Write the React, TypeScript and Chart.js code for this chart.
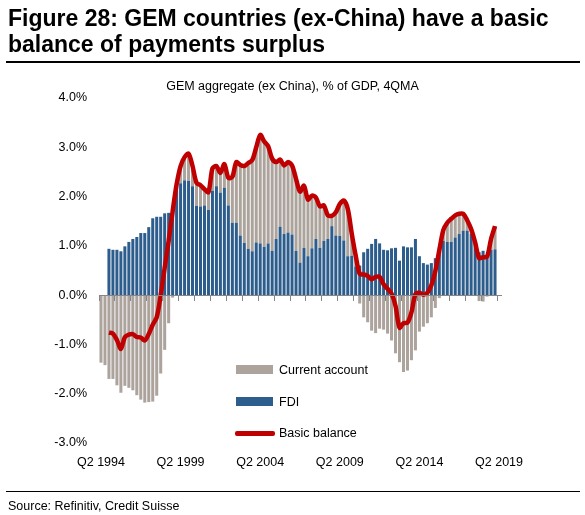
import React, { useEffect, useRef } from "react";
import { Chart, registerables } from "chart.js";

Chart.register(...registerables);

// ---- categories (quarters Q2 1994 .. Q2 2019) ----
const START_YEAR = 1994;
const START_QUARTER = 2;
const QUARTER_COUNT = 101;
const categories: string[] = [];
for (let i = 0; i < QUARTER_COUNT; i++) {
  const q = ((START_QUARTER - 1 + i) % 4) + 1;
  const y = START_YEAR + Math.floor((START_QUARTER - 1 + i) / 4);
  categories.push(`Q${q} ${y}`);
}

const tickLabels = ["Q2 1994", "Q2 1999", "Q2 2004", "Q2 2009", "Q2 2014", "Q2 2019"];
const yTicks = [4, 3, 2, 1, 0, -1, -2, -3];

// ---- series (% of GDP, 4QMA) ----
const fdi: (number | null)[] = [
  null, null, 0.94, 0.92, 0.92, 0.89, 0.99, 1.08, 1.14, 1.18,
  1.26, 1.26, 1.38, 1.56, 1.59, 1.59, 1.66, 1.67, 1.75, 2.2,
  2.27, 2.33, 2.32, 2.21, 1.81, 1.8, 1.82, 1.73, 2.12, 2.21,
  2.08, 2.18, 1.82, 1.47, 1.47, 1.21, 1.06, 0.94, 0.89, 1.07,
  1.05, 0.98, 1.05, 0.9, 1.14, 1.39, 1.24, 1.27, 1.23, 0.9,
  0.66, 0.96, 0.79, 0.95, 1.14, 0.96, 1.1, 1.14, 1.4, 1.21,
  1.2, 1.11, 0.79, 0.8, 0.58, 0.6, 0.87, 0.94, 1.04, 1.14,
  1.05, 0.92, 0.91, 0.95, 0.96, 0.7, 0.99, 0.97, 0.97, 1.14,
  0.79, 0.65, 0.62, 0.65, 0.75, 0.97, 1.1, 1.08, 1.08, 1.17,
  1.24, 1.31, 1.31, 1.24, 1.05, 0.87, 0.9, 0.81, 0.92, 0.93,
  null,
];

const currentAccount: (number | null)[] = [
  -1.37, -1.42, -1.7, -1.7, -1.83, -1.98, -1.84, -1.88, -1.93, -2.03,
  -2.12, -2.18, -2.17, -2.16, -2.04, -1.59, -1.11, -0.57, -0.05, 0.05,
  0.35, 0.47, 0.55, 0.41, 0.47, 0.43, 0.33, 0.36, 0.45, 0.41,
  0.4, 0.48, 0.56, 0.93, 1.23, 1.43, 1.56, 1.74, 1.85, 1.93,
  2.2, 2.14, 1.97, 1.87, 1.56, 1.36, 1.39, 1.43, 1.4, 1.46,
  1.44, 1.26, 1.15, 1.07, 0.84, 0.84, 0.72, 0.48, 0.21, 0.47,
  0.65, 0.81, 0.96, 0.45, 0.22, -0.17, -0.45, -0.55, -0.72, -0.77,
  -0.68, -0.7, -0.78, -0.92, -1.18, -1.36, -1.56, -1.53, -1.32, -1.12,
  -0.74, -0.64, -0.57, -0.45, -0.26, -0.06, 0.22, 0.39, 0.47, 0.45,
  0.41, 0.34, 0.21, 0.1, 0.02, -0.12, -0.13, -0.03, 0.22, 0.47,
  null,
];

const basicBalance: (number | null)[] = [
  null, null, -0.76, -0.78, -0.91, -1.09, -0.85, -0.8, -0.79, -0.85,
  -0.86, -0.92, -0.79, -0.6, -0.45, 0.0, 0.55, 1.1, 1.7, 2.25,
  2.62, 2.8, 2.87, 2.62, 2.28, 2.23, 2.15, 2.09, 2.57, 2.62,
  2.48, 2.66, 2.38, 2.4, 2.7, 2.64, 2.62, 2.68, 2.74, 3.0,
  3.25, 3.12, 3.02, 2.77, 2.7, 2.75, 2.63, 2.7, 2.63, 2.36,
  2.1, 2.22, 1.94, 2.02, 1.98, 1.8, 1.82, 1.62, 1.61, 1.68,
  1.85, 1.92, 1.75, 1.25, 0.8, 0.43, 0.42, 0.39, 0.32, 0.37,
  0.37, 0.22, 0.13, 0.03, -0.22, -0.66, -0.57, -0.56, -0.35, 0.02,
  0.05, 0.01, 0.05, 0.2, 0.49, 0.91, 1.32, 1.47, 1.55, 1.62,
  1.65, 1.65, 1.52, 1.34, 1.07, 0.75, 0.77, 0.78, 1.14, 1.4,
  null,
];

const BLUE = "#2D5D8C";
const GRAY = "#ABA39C";
const RED = "#C00000";
const AXIS = "#868686";
const FONT = "'Liberation Sans', Arial, sans-serif";

export default function App() {
  const canvasRef = useRef<HTMLCanvasElement>(null);

  useEffect(() => {
    if (!canvasRef.current) return;
    Chart.defaults.font.family = FONT;
    const chart = new Chart(canvasRef.current, {
      type: "bar",
      data: {
        labels: categories,
        datasets: [
          {
            type: "line",
            label: "Basic balance",
            data: basicBalance,
            borderColor: RED,
            backgroundColor: RED,
            borderWidth: 4.5,
            pointRadius: 0,
            tension: 0.3,
            order: 0,
            spanGaps: false,
          } as any,
          {
            type: "bar",
            label: "FDI",
            data: fdi,
            backgroundColor: BLUE,
            barPercentage: 0.76,
            categoryPercentage: 1,
            order: 1,
          },
          {
            type: "bar",
            label: "Current account",
            data: currentAccount,
            backgroundColor: GRAY,
            barPercentage: 0.76,
            categoryPercentage: 1,
            order: 1,
          },
        ],
      },
      options: {
        responsive: false,
        animation: false,
        devicePixelRatio: 1,
        layout: { padding: { left: 0, top: 98, right: 84, bottom: 0 } },
        plugins: {
          legend: { display: false },
          tooltip: { enabled: false },
          title: { display: false },
        },
        scales: {
          x: {
            stacked: true,
            grid: { display: false, drawTicks: false },
            border: { display: false },
            ticks: {
              autoSkip: false,
              maxRotation: 0,
              minRotation: 0,
              padding: 12,
              color: "#000",
              font: { size: 12.5, family: FONT },
              callback: (_v: any, i: number) =>
                tickLabels.includes(categories[i]) ? categories[i] : "",
            },
            afterFit: (s: any) => {
              s.height = 72;
            },
          },
          x2: {
            type: "category",
            labels: categories,
            position: { y: 0 },
            offset: true,
            grid: {
              offset: true,
              drawOnChartArea: false,
              drawTicks: true,
              tickLength: 5,
              lineWidth: 1,
              color: (ctx: any) =>
                typeof ctx.index === "number" && ctx.index % 4 === 0 ? AXIS : "rgba(0,0,0,0)",
              z: 1,
            },
            border: { display: true, color: AXIS, width: 1, z: 1 },
            ticks: { display: false, autoSkip: false },
          } as any,
          y: {
            stacked: true,
            min: -3,
            max: 4,
            afterBuildTicks: (s: any) => {
              s.ticks = yTicks.map((v) => ({ value: v }));
            },
            ticks: {
              padding: 12,
              color: "#000",
              font: { size: 12.5, family: FONT },
              callback: (v: any) => Number(v).toFixed(1) + "%",
            },
            grid: { display: false, drawTicks: false },
            border: { display: false },
            afterFit: (s: any) => {
              s.width = 99;
            },
          },
        },
      },
    });
    return () => chart.destroy();
  }, []);

  const text: React.CSSProperties = {
    position: "absolute",
    fontFamily: FONT,
    color: "#000",
    whiteSpace: "nowrap",
  };

  return (
    <div
      style={{
        position: "absolute",
        left: 0,
        top: 0,
        width: 585,
        height: 515,
        background: "#fff",
        overflow: "hidden",
        fontFamily: FONT,
      }}
    >
      <canvas
        ref={canvasRef}
        width={585}
        height={515}
        style={{ position: "absolute", left: 0, top: 0, width: 585, height: 515 }}
      />
      <div style={{ ...text, left: 8, top: 5, fontSize: 23, fontWeight: "bold", lineHeight: "26px" }}>
        Figure 28: GEM countries (ex-China) have a basic
        <br />
        balance of payments surplus
      </div>
      <div style={{ position: "absolute", left: 6, top: 61, width: 574, height: 1.5, background: "#000" }} />
      <div style={{ ...text, left: 0, width: 585, textAlign: "center", top: 78, fontSize: 12.5, lineHeight: "16px" }}>
        GEM aggregate (ex China), % of GDP, 4QMA
      </div>

      {/* legend */}
      <div style={{ position: "absolute", left: 236, top: 365, width: 37, height: 9, background: GRAY }} />
      <div style={{ ...text, left: 279, top: 362, fontSize: 12.5, lineHeight: "16px" }}>Current account</div>
      <div style={{ position: "absolute", left: 236, top: 397, width: 37, height: 9, background: BLUE }} />
      <div style={{ ...text, left: 279, top: 394, fontSize: 12.5, lineHeight: "16px" }}>FDI</div>
      <div style={{ position: "absolute", left: 235, top: 431, width: 40, height: 4.5, background: RED, borderRadius: 2 }} />
      <div style={{ ...text, left: 279, top: 425, fontSize: 12.5, lineHeight: "16px" }}>Basic balance</div>

      <div style={{ position: "absolute", left: 6, top: 491, width: 574, height: 1.3, background: "#000" }} />
      <div style={{ ...text, left: 8, top: 498, fontSize: 12.5, lineHeight: "16px" }}>
        Source: Refinitiv, Credit Suisse
      </div>
    </div>
  );
}
